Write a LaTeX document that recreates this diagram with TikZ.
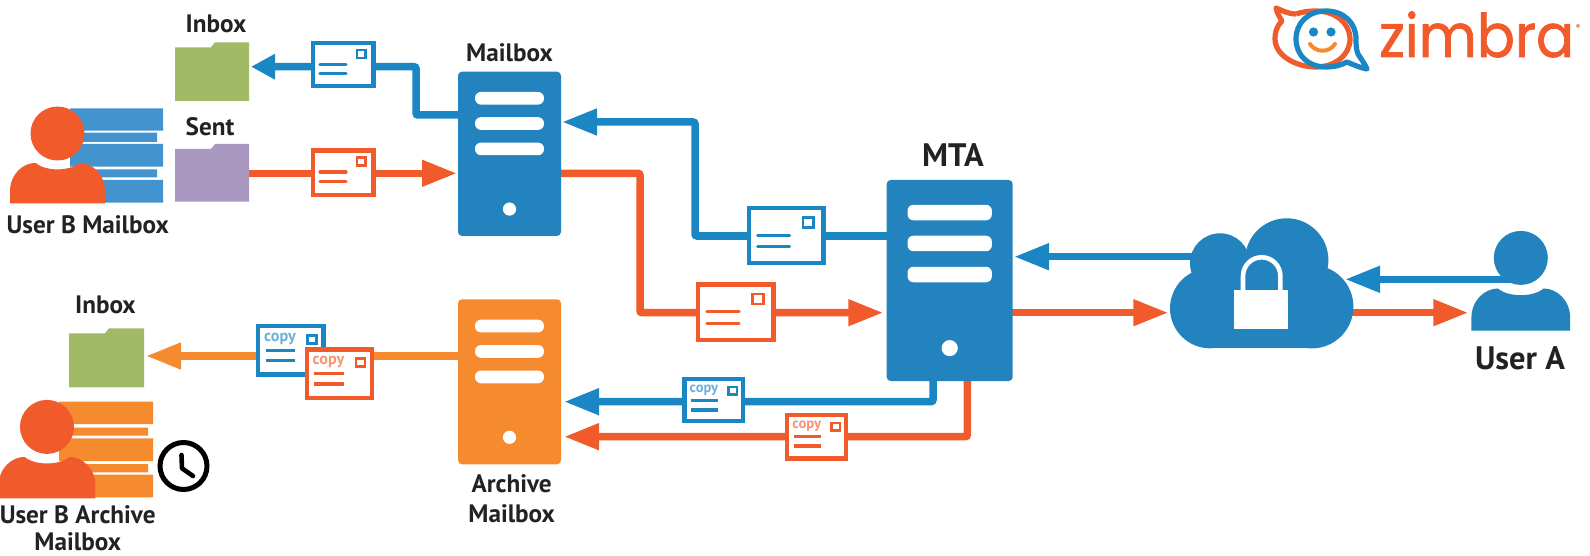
\documentclass[tikz,border=0pt]{standalone}
\usepackage{fontspec}
\setmainfont{PT Sans}
\newfontfamily\logofont[FakeBold=1.2]{Poppins}
\usetikzlibrary{arrows.meta,backgrounds}
\definecolor{srvblue}{HTML}{2383BF}
\definecolor{lineblue}{HTML}{1A86C4}
\definecolor{stackblue}{HTML}{4393CE}
\definecolor{zorange}{HTML}{F15A2B}
\definecolor{zamber}{HTML}{F58A2F}
\definecolor{zgreen}{HTML}{A0BA66}
\definecolor{zpurple}{HTML}{A998BF}
\definecolor{ink}{HTML}{222222}
\tikzset{
  >={Triangle[length=35pt,width=25pt]},
  lab/.style={font=\bfseries\fontsize{25.2}{28}\selectfont,text=ink,inner sep=0pt},
  biglab/.style={font=\bfseries\fontsize{32.5}{34}\selectfont,text=ink,inner sep=0pt},
  serverbody/.style={rectangle,fill=#1,rounded corners=4pt,inner sep=0pt,outer sep=0pt},
  envbox/.style={rectangle,draw=#1,fill=white,line width=4.4pt,inner sep=0pt,outer sep=0pt},
  blueline/.style={draw=lineblue,line width=7.5pt,rounded corners=2pt},
  orangeline/.style={draw=zorange,line width=7.5pt,rounded corners=2pt},
  amberline/.style={draw=zamber,line width=7.5pt},
}
% server: name, colour, cx, cy, w, h
\newcommand\srvbox[6]{%
  \node[serverbody=#2,minimum width=#5pt,minimum height=#6pt] (#1) at (#3,#4) {};
  \pgfmathsetmacro\sx{#5/103}\pgfmathsetmacro\sy{#6/164.5}
  \begin{scope}[shift={(#1.north west)},xscale=\sx,yscale=\sy]
    \foreach \yy in {20.3,45.6,71}{\fill[white,rounded corners=6pt] (17,\yy) rectangle (86,\yy+12.7);}
    \fill[white] (51.5,137.6) circle[radius=6.6];
  \end{scope}}
% envelope: name, colour, x1, y1, x2, y2 (scale from width 64.5)
\newcommand\envl[6]{%
  \pgfmathsetmacro\ew{#5-#3-4.4}\pgfmathsetmacro\eh{#6-#4-4.4}
  \pgfmathsetmacro\ecx{(#3+#5)/2}\pgfmathsetmacro\ecy{(#4+#6)/2}
  \node[envbox=#2,minimum width=\ew pt,minimum height=\eh pt] (#1) at (\ecx,\ecy) {};
  \pgfmathsetmacro\es{(#5-#3)/64.5}
  \begin{scope}[shift={(#3,#4)},scale=\es]
    \draw[#2,line width=2.6pt] (46,9.5) rectangle (54.5,17.5);
    \draw[#2,line width=3.2pt,line cap=round] (9,23.8) -- (35,23.8) (9,32.9) -- (35,32.9);
  \end{scope}}
% copy envelope: name, colour, x1, y1, x2, y2 (scale from width 69)
\newcommand\envc[6]{%
  \pgfmathsetmacro\ew{#5-#3-4.4}\pgfmathsetmacro\eh{#6-#4-4.4}
  \pgfmathsetmacro\ecx{(#3+#5)/2}\pgfmathsetmacro\ecy{(#4+#6)/2}
  \node[envbox=#2,minimum width=\ew pt,minimum height=\eh pt] (#1) at (\ecx,\ecy) {};
  \pgfmathsetmacro\es{(#5-#3)/69}
  \pgfmathsetmacro\fs{16*\es}
  \begin{scope}[shift={(#3,#4)},scale=\es]
    \draw[#2,line width=2.6pt] (51,11.3) rectangle (60,19.3);
    \draw[#2,line width=3.4pt] (9.5,26.2) -- (39,26.2) (9.5,36.5) -- (39,36.5);
    \node[text=#2!65,inner sep=0pt,font=\bfseries\fontsize{\fs}{\fs}\selectfont] (#1txt) at (23.8,14.6) {copy};
  \end{scope}}
% person: name, colour, cx, bottom y, scale
\newcommand\persona[5]{%
  \begin{scope}[shift={(#3,#4)},scale=#5]
    \fill[#2] (-47.5,0) -- (-47.5,-12)
      .. controls (-47.5,-30) and (-34,-40.6) .. (-22,-40.6)
      .. controls (-12,-32) and (12,-32) .. (22,-40.6)
      .. controls (34,-40.6) and (47.5,-30) .. (47.5,-12) -- (47.5,0) -- cycle;
    \node[circle,fill=#2,minimum size=54pt,inner sep=0pt] (#1) at (0,-70) {};
  \end{scope}}
% folder: name, colour, x1, y1 (top), x2, y2
\newcommand\folder[6]{%
  \pgfmathsetmacro\fcx{(#3+#5)/2}\pgfmathsetmacro\fcy{(#4+#6)/2}
  \pgfmathsetmacro\fw{#5-#3}\pgfmathsetmacro\fh{#6-#4}
  \node[rectangle,inner sep=0pt,outer sep=0pt,minimum width=\fw pt,minimum height=\fh pt] (#1) at (\fcx,\fcy) {};
  \fill[#2] (#3,#6) -- (#3,#4+5) -- (#3+36,#4+5) -- (#3+40,#4) -- (#5,#4) -- (#5,#6) -- cycle;}
\begin{document}
\begin{tikzpicture}[x=1pt,y=-1pt]
\useasboundingbox (0,0) rectangle (1590,556);

% servers
\srvbox{mbox}{srvblue}{509.5}{153.8}{103}{164.3}
\srvbox{arch}{zamber}{509.5}{381.8}{103}{165}
\srvbox{mta}{srvblue}{949.7}{280.5}{126}{201}

% folders
\folder{finbox}{zgreen}{175}{42.3}{249}{101}
\folder{fsent}{zpurple}{175}{144}{249}{201.7}
\folder{farch}{zgreen}{69}{328.3}{144}{387.3}

% stacks
\fill[stackblue] (70,108.3) rectangle (163,130.7) (70,132.7) rectangle (157,142) (70,144) rectangle (163,166.7) (70,169.3) rectangle (157,177.3) (70,180) rectangle (163,202.7);
\fill[zamber] (59,401.7) rectangle (153,424) (59,427.7) rectangle (148,435.7) (59,438.3) rectangle (153,461) (59,464) rectangle (148,472.3) (59,474.7) rectangle (153,497.3);

% people
\persona{userb}{zorange}{57.5}{203.5}{1}
\persona{userc}{zorange}{47}{498.3}{1.02}
\persona{usera}{srvblue}{1520.8}{330.7}{1.04}

% clock
\node[circle,draw=black,line width=5pt,fill=white,minimum size=47pt,inner sep=0pt] (clock) at (183.5,466) {};
\draw[black,line width=4.6pt,line cap=round,line join=round] (181.5,455) -- (182,468.3) -- (193,476);

% cloud
\node[rectangle,inner sep=0pt,minimum width=183pt,minimum height=130pt] (cloud) at (1261.3,283.3) {};
\fill[srvblue] (1210,308.3) circle[radius=40];
\fill[srvblue] (1311.7,306.7) circle[radius=41.7];
\fill[srvblue] (1286.7,260) circle[radius=41.7];
\fill[srvblue] (1220,263.3) circle[radius=30];
\fill[srvblue] (1210,270) rectangle (1312,348.3);
\draw[white,line width=4.6pt] (1243,292) -- (1243,276) arc[start angle=180,end angle=360,radius=18.7] -- (1280.4,292);
\fill[white] (1234.3,290) rectangle (1288.3,329);

% envelopes
\envl{e1}{lineblue}{311}{40.7}{375.5}{88.3}
\envl{e2}{zorange}{311}{148.3}{375.5}{197.3}
\envl{e3}{lineblue}{746.7}{206}{825.7}{265}
\envl{e4}{zorange}{695.7}{282.3}{775.7}{342.3}
\envc{c1}{lineblue}{256}{324}{325.5}{376.7}
\envc{c2}{zorange}{304.5}{347.3}{374}{400}
\envc{c3}{lineblue}{682.3}{376.7}{745}{423.3}
\envc{c4}{zorange}{785}{412.7}{848.3}{460.7}

% labels
\node[lab] (l1) at (216,24.3) {Inbox};
\node[lab] (l2) at (210,126.7) {Sent};
\node[lab] (l3) at (509.5,52.3) {Mailbox};
\node[lab] (l4) at (87.7,224.3) {User B Mailbox};
\node[lab] (l5) at (105.4,305) {Inbox};
\node[lab] (l6) at (511.6,484) {Archive};
\node[lab] (l7) at (511.6,514) {Mailbox};
\node[lab] (l8) at (77.7,515) {User B Archive};
\node[lab] (l9) at (77.7,542) {Mailbox};
\node[biglab] (l10) at (953,155) {MTA};
\node[biglab] (l11) at (1520,358) {User A};

% logo
\draw[zorange,line width=5.2pt,line join=round] (1296,14) .. controls (1288,14) and (1281,10) .. (1276,8) .. controls (1277,13) and (1280,18) .. (1282,21) .. controls (1276,27) and (1275,33) .. (1275,39) .. controls (1275,55) and (1295,67) .. (1316,67) .. controls (1335,67) and (1350,55) .. (1350,39) .. controls (1350,23) and (1335,11) .. (1316,11) .. controls (1308,11) and (1302,12) .. (1296,14);
\draw[lineblue,line width=5.2pt,line join=round] (1326,11) .. controls (1308,11) and (1296,23) .. (1296,39) .. controls (1296,55) and (1308,67) .. (1326,67) .. controls (1334,67) and (1342,65) .. (1347,62) .. controls (1354,65) and (1361,68) .. (1367,69) .. controls (1365,64) and (1361,59) .. (1358,54) .. controls (1356,49) and (1356,44) .. (1356,39) .. controls (1356,23) and (1344,11) .. (1326,11) -- cycle;
\fill[lineblue] (1313.5,32) circle[radius=4.6] (1331,32) circle[radius=4.6];
\draw[zamber,line width=4pt,line cap=round] (1310,44) .. controls (1316,53) and (1329,53) .. (1335,44);
\node[anchor=base west,inner sep=0pt,text=zorange,font=\logofont\fontsize{60}{60}\selectfont,xscale=0.94] (zlogo) at (1379,57) {zimbra};
\node[inner sep=0pt,text=zorange!70,font=\logofont\fontsize{8}{8}\selectfont] (zreg) at (1578,27) {®};

% connectors
\coordinate (tInbox) at (251,66.7);
\coordinate (b1) at (416,66.7);
\coordinate (b2) at (416,115);
\coordinate (tSentA) at (457,173.3);
\coordinate (sentS) at (249,173.3);
\coordinate (b3) at (695,236);
\coordinate (b4) at (695,122);
\coordinate (tMboxIn) at (562,122);
\coordinate (o1) at (561,173.3);
\coordinate (o2) at (640,173.3);
\coordinate (o3) at (640,312.7);
\coordinate (tMtaL) at (883.3,312.7);
\coordinate (tMtaIn) at (1014,256.7);
\coordinate (tCloudIn) at (1168.3,312.7);
\coordinate (tCloudR) at (1345,279.3);
\coordinate (tUserA) at (1468.3,312.7);
\coordinate (bl1) at (933,401.7);
\coordinate (tArchB) at (564,401.7);
\coordinate (ol1) at (967.3,436.7);
\coordinate (tArchO) at (564,436.7);
\coordinate (tFarch) at (146,356);
\begin{pgfonlayer}{background}
\draw[blueline,->,>={Triangle[length=24pt,width=24pt]}] (mbox.center |- b2) -- (b2) -- (b1) -- (tInbox);
\draw[orangeline,->] (sentS) -- (tSentA);
\draw[blueline,->] (mta.center |- b3) -- (b3) -- (b4) -- (tMboxIn);
\draw[orangeline,->] (o1) -- (o2) -- (o3) -- (tMtaL);
\draw[blueline,->] (cloud.center |- tMtaIn) -- (tMtaIn);
\draw[orangeline,->] (mta.center |- tCloudIn) -- (tCloudIn);
\draw[blueline,->] (usera.center |- tCloudR) -- (tCloudR);
\draw[orangeline,->] (cloud.center |- tUserA) -- (tUserA);
\draw[blueline,->] (mta.south -| bl1) -- (bl1) -- (tArchB);
\draw[orangeline,->] (mta.south -| ol1) -- (ol1) -- (tArchO);
\draw[amberline,->] (arch.center |- tFarch) -- (tFarch);
\end{pgfonlayer}
\end{tikzpicture}
\end{document}
